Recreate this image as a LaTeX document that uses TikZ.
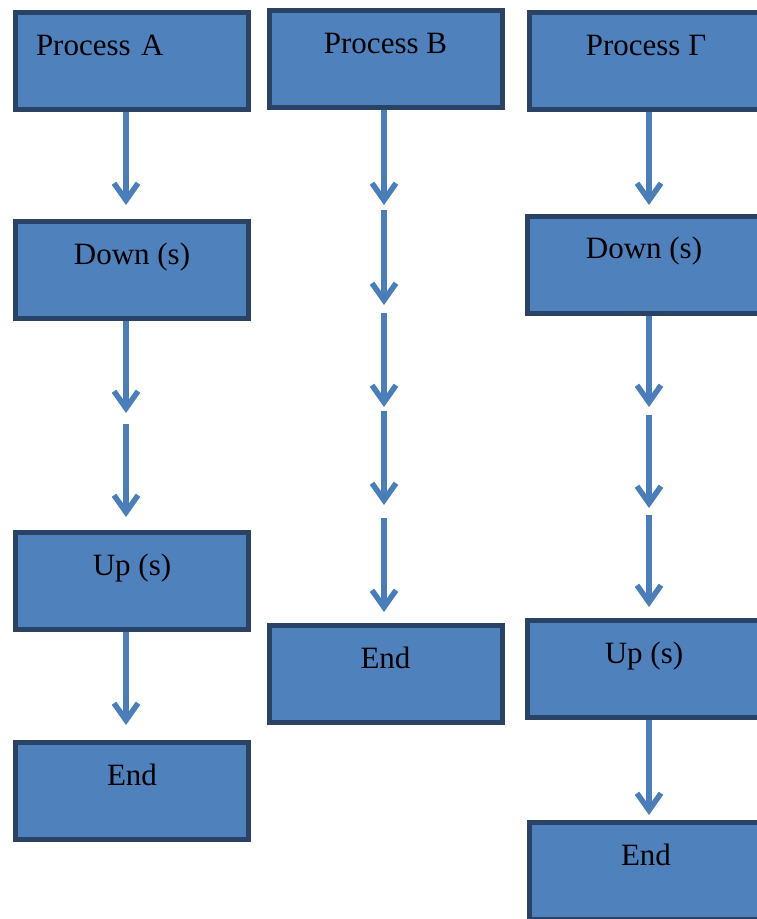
\documentclass[tikz,border=0pt]{standalone}
\usepackage{fontspec}
\setmainfont{Liberation Serif}
\usetikzlibrary{arrows.meta,backgrounds}
\definecolor{boxfill}{HTML}{4F81BD}
\definecolor{boxline}{HTML}{294266}
\definecolor{arrcol}{HTML}{4A7EBB}
\tikzset{
  procbox/.style={draw=boxline, fill=boxfill, line width=5pt, rectangle,
    minimum width=233pt, minimum height=97pt, inner xsep=0pt, inner ysep=0pt,
    text height=42.5pt, text depth=54.5pt, font=\fontsize{31}{36}\selectfont},
  arr/.style={draw=arrcol, line width=6pt,
    -{Straight Barb[length=17pt,width=24pt,line width=5.5pt]}}
}
\begin{document}
\begin{tikzpicture}[x=1pt,y=-1pt]
\useasboundingbox (0,0) rectangle (757,919);
\clip (0,0) rectangle (757,919);
% column A
\node[procbox, text width=192pt, align=left, inner xsep=20.5pt] (PA) at (132,61) {Process A\hfill};
\node[procbox] (DA) at (132,270) {Down (s)};
\node[procbox] (UA) at (132,581) {Up (s)};
\node[procbox] (EA) at (132,791) {End};
% column B
\node[procbox] (PB) at (385.5,59) {Process B};
\node[procbox] (EB) at (385.5,674) {End};
% column Gamma
\node[procbox] (PG) at (646,61) {Process Γ};
\node[procbox] (DG) at (644,264.5) {Down (s)};
\node[procbox] (UG) at (644,669) {Up (s)};
\node[procbox] (EG) at (646,871) {End};
% arrow ends
\coordinate (a1) at (126,205);
\coordinate (a2) at (126,413);
\coordinate (a3s) at (126,424);
\coordinate (a3) at (126,517);
\coordinate (a4) at (126,725);
\coordinate (b1) at (384,205);
\coordinate (b2s) at (384,210);
\coordinate (b2) at (384,305);
\coordinate (b3s) at (384,313);
\coordinate (b3) at (384,407);
\coordinate (b4s) at (384,411);
\coordinate (b4) at (384,505);
\coordinate (b5s) at (384,518);
\coordinate (b5) at (384,612);
\coordinate (g1) at (649,205);
\coordinate (g2) at (649,407);
\coordinate (g3s) at (649,415);
\coordinate (g3) at (649,508);
\coordinate (g4s) at (649,515);
\coordinate (g4) at (649,607);
\coordinate (g5) at (649,815);
\begin{scope}[on background layer]
\draw[arr] (PA.south -| a1) -- (a1);
\draw[arr] (DA.south -| a2) -- (a2);
\draw[arr] (a3s) -- (a3);
\draw[arr] (UA.south -| a4) -- (a4);
\draw[arr] (PB.south -| b1) -- (b1);
\draw[arr] (b2s) -- (b2);
\draw[arr] (b3s) -- (b3);
\draw[arr] (b4s) -- (b4);
\draw[arr] (b5s) -- (b5);
\draw[arr] (PG.south -| g1) -- (g1);
\draw[arr] (DG.south -| g2) -- (g2);
\draw[arr] (g3s) -- (g3);
\draw[arr] (g4s) -- (g4);
\draw[arr] (UG.south -| g5) -- (g5);
\end{scope}
\end{tikzpicture}
\end{document}
